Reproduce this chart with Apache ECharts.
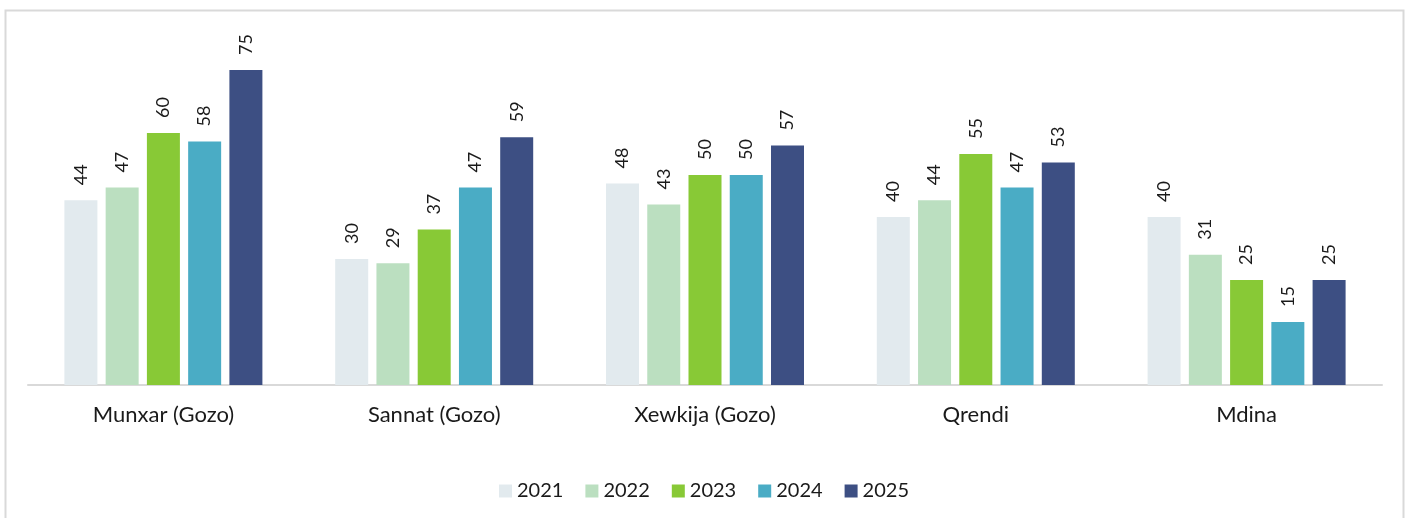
<!DOCTYPE html>
<html>
<head>
<meta charset="utf-8">
<script src="https://cdn.jsdelivr.net/npm/echarts@6/dist/echarts.min.js"></script>
<style>
  html, body { margin: 0; padding: 0; background: #fff; }
  #chart { width: 1408px; height: 518px; }
</style>
</head>
<body>
<div id="chart"></div>
<script>
// Localities compared across survey years
const categories = ['Munxar (Gozo)', 'Sannat (Gozo)', 'Xewkija (Gozo)', 'Qrendi', 'Mdina'];
const years = ['2021', '2022', '2023', '2024', '2025'];
const values2021 = [44, 30, 48, 40, 40];
const values2022 = [47, 29, 43, 44, 31];
const values2023 = [60, 37, 50, 55, 25];
const values2024 = [58, 47, 50, 47, 15];
const values2025 = [75, 59, 57, 53, 25];
const yearColors = ['#e2eaee', '#bbdfc0', '#88c936', '#4aacc5', '#3d4f83'];

const seriesValues = [values2021, values2022, values2023, values2024, values2025];
const font = 'Lato, "Open Sans", sans-serif';

const chart = echarts.init(document.getElementById('chart'), null, { renderer: 'canvas' });

chart.setOption({
  animation: false,
  backgroundColor: '#ffffff',
  graphic: [{
    type: 'rect',
    shape: { x: 5.5, y: 10.5, width: 1398, height: 520 },
    style: { fill: 'none', stroke: '#d9d9d9', lineWidth: 2 },
    silent: true,
    z: -1
  }],
  grid: { left: 28, right: 26, top: 49, height: 336, containLabel: false },
  legend: {
    top: 476,
    left: 'center',
    itemWidth: 13,
    itemHeight: 13,
    itemGap: 22,
    icon: 'rect',
    textStyle: { fontFamily: font, fontSize: 20, color: '#1a1a1a' },
    data: years
  },
  xAxis: {
    type: 'category',
    data: categories,
    axisLine: { lineStyle: { color: '#d9d9d9', width: 2 } },
    axisTick: { show: false },
    axisLabel: { fontFamily: font, fontSize: 22, color: '#1a1a1a', margin: 19 }
  },
  yAxis: {
    type: 'value',
    min: 0,
    max: 80,
    show: false,
    splitLine: { show: false }
  },
  series: years.map((y, i) => ({
    name: y,
    type: 'bar',
    data: seriesValues[i],
    barWidth: 33,
    barGap: '25%',
    itemStyle: { color: yearColors[i] },
    label: {
      show: true,
      position: 'top',
      rotate: 90,
      distance: 15,
      align: 'left',
      verticalAlign: 'middle',
      fontFamily: font,
      fontSize: 18,
      color: '#1a1a1a'
    }
  }))
});
</script>
</body>
</html>
